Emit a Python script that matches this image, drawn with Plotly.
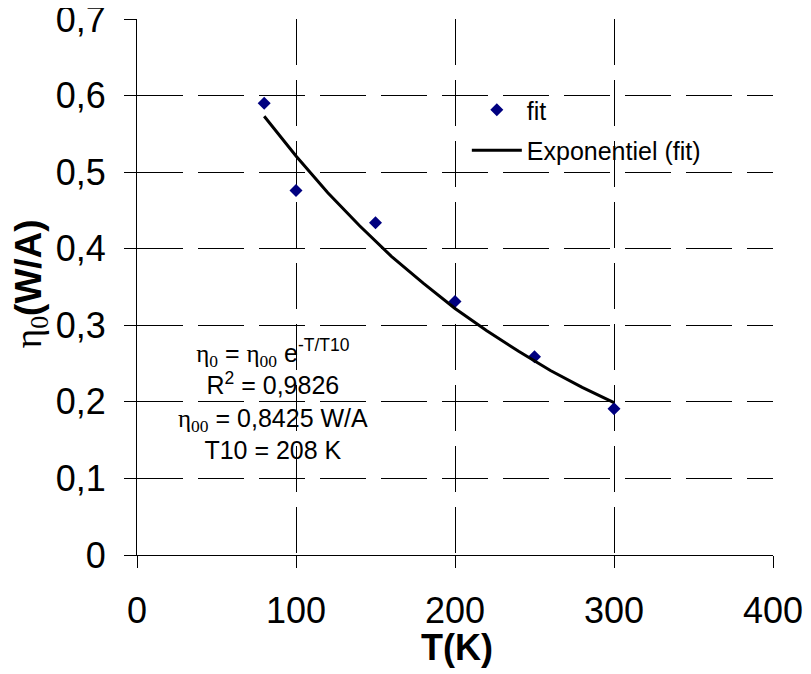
import plotly.graph_objects as go

# measured data points
T_meas = [80, 100, 150, 200, 250, 300]
eta_meas = [0.590, 0.476, 0.434, 0.331, 0.259, 0.191]

# exponential trend line
T_fit = [80, 100, 120, 140, 160, 180, 200, 220, 240, 260, 280, 300]
eta_fit = [0.573, 0.521, 0.473, 0.430, 0.390, 0.355, 0.322, 0.293, 0.266, 0.241, 0.219, 0.199]

x_ticks = [0, 100, 200, 300, 400]
x_ticktext = ["0", "100", "200", "300", "400"]
y_ticks = [0, 0.1, 0.2, 0.3, 0.4, 0.5, 0.6, 0.7]
y_ticktext = ["0", "0,1", "0,2", "0,3", "0,4", "0,5", "0,6", "0,7"]

SANS = "Liberation Sans, Arial, sans-serif"
SERIF = "Liberation Serif, Times New Roman, serif"

fig = go.Figure()
fig.add_trace(go.Scatter(
    x=T_meas, y=eta_meas, mode="markers", name="fit", legendgroup="a",
    marker=dict(symbol="diamond", size=10, color="#000080"),
))
fig.add_trace(go.Scatter(
    x=T_fit, y=eta_fit, mode="lines", name="Exponentiel (fit)", legendgroup="b",
    line=dict(color="black", width=3),
))

grid = dict(showgrid=True, gridcolor="black", gridwidth=1, griddash="46px,15px")

fig.update_xaxes(
    range=[0, 400], tickvals=x_ticks, ticktext=x_ticktext, automargin=False,
    showline=True, linecolor="black", linewidth=1, zeroline=False,
    ticks="outside", ticklen=12, tickcolor="black", tickwidth=1,
    ticklabelstandoff=12, ticklabeloverflow="allow",
    tickfont=dict(family=SANS, size=36, color="black"),
    **grid,
)
fig.update_yaxes(
    range=[0, 0.7], tickvals=y_ticks, ticktext=y_ticktext, automargin=False,
    showline=True, linecolor="black", linewidth=1, zeroline=False,
    ticks="outside", ticklen=12, tickcolor="black", tickwidth=1,
    ticklabelstandoff=11, ticklabeloverflow="allow",
    tickfont=dict(family=SANS, size=36, color="black"),
    **grid,
)

# axis titles
fig.add_annotation(
    xref="paper", yref="paper", x=0.503, y=-0.1735, xanchor="center", yanchor="middle",
    text="<b>T(K)</b>", showarrow=False,
    font=dict(family=SANS, size=36, color="black"),
)
fig.add_annotation(
    xref="paper", yref="paper", x=-0.1667, y=0.507, xanchor="center", yanchor="middle",
    text="<span style='font-family:" + SERIF + "'>η<sub>0</sub></span><b>(W/A)</b>",
    textangle=-90, showarrow=False,
    font=dict(family=SANS, size=37, color="black"),
)

# white boxes hiding the grid behind legend and equation
fig.add_shape(type="rect", xref="paper", yref="paper", x0=0.505, x1=0.906, y0=0.703, y1=0.871,
              fillcolor="white", line=dict(width=0), layer="between")
fig.add_shape(type="rect", xref="paper", yref="paper", x0=0.044, x1=0.387, y0=0.134, y1=0.438,
              fillcolor="white", line=dict(width=0), layer="between")

eta = "<span style='font-family:" + SERIF + "'>η</span>"
eq_text = (
    eta + "<sub><span style='font-family:" + SERIF + "'>0</span></sub> = "
    + eta + "<sub><span style='font-family:" + SERIF + "'>00</span></sub> e<sup>-T/T10</sup><br>"
    + "R<sup>2</sup> = 0,9826<br>"
    + eta + "<sub><span style='font-family:" + SERIF + "'>00</span></sub> = 0,8425 W/A<br>"
    + "T10 = 208 K"
)
fig.add_annotation(
    xref="paper", yref="paper", x=0.214, y=0.29, xanchor="center", yanchor="middle",
    text=eq_text, showarrow=False, align="center",
    font=dict(family=SANS, size=25, color="black"),
)

# the page adds an 8px body margin, so margins are shifted by 8px
fig.update_layout(
    width=811, height=674,
    margin=dict(l=129, r=46, t=11, b=127, autoexpand=False),
    paper_bgcolor="white", plot_bgcolor="white",
    font=dict(family=SANS, color="black"),
    legend=dict(
        x=0.5186, y=0.873, xanchor="left", yanchor="top",
        bgcolor="rgba(0,0,0,0)", borderwidth=0,
        font=dict(family=SANS, size=25, color="black"),
        tracegroupgap=5, itemwidth=50,
    ),
    showlegend=True,
)

fig.write_html("out.html")
